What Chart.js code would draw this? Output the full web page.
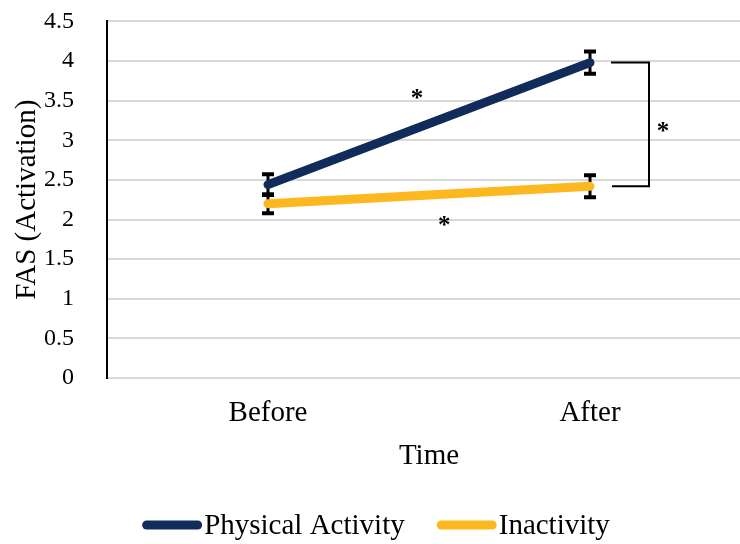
<!DOCTYPE html>
<html>
<head>
<meta charset="utf-8">
<script src="https://cdn.jsdelivr.net/npm/chart.js@4"></script>
<style>
  html, body { margin: 0; padding: 0; background: #fff; overflow: hidden; }
  #frame { width: 740px; height: 544px; position: relative; overflow: hidden; }
  #wrap { width: 752px; height: 570px; position: absolute; left: 0; top: -26px; }
</style>
</head>
<body>
<div id="frame"><div id="wrap"><canvas id="c"></canvas></div></div>
<script>
// Mean FAS (Activation) scores with standard errors
const categories = ['Before', 'After'];
const physicalActivity = [2.44, 3.98];
const physicalActivityError = [0.13, 0.14];
const inactivity = [2.20, 2.42];
const inactivityError = [0.12, 0.14];
const yTickValues = [0, 0.5, 1, 1.5, 2, 2.5, 3, 3.5, 4, 4.5];

// Significance stars: position in (category index, value) units
const starX = [0.463, 0.547];
const starY = [3.56, 1.96];

const SERIF = "'Times New Roman', 'Liberation Serif', serif";
const NAVY = '#112B5A';
const GOLD = '#FDB71F';

const errorBars = {
  id: 'errorBars',
  beforeDatasetsDraw(chart) {
    const { ctx, scales: { x, y } } = chart;
    ctx.save();
    ctx.strokeStyle = '#000';
    chart.data.datasets.forEach(ds => {
      ds.data.forEach((v, j) => {
        const e = ds.errors[j];
        const px = x.getPixelForValue(j);
        const top = y.getPixelForValue(v + e);
        const bot = y.getPixelForValue(v - e);
        ctx.lineWidth = 3;
        ctx.beginPath(); ctx.moveTo(px, top); ctx.lineTo(px, bot); ctx.stroke();
        ctx.lineWidth = 4;
        ctx.beginPath();
        ctx.moveTo(px - 6, top); ctx.lineTo(px + 6, top);
        ctx.moveTo(px - 6, bot); ctx.lineTo(px + 6, bot);
        ctx.stroke();
      });
    });
    ctx.restore();
  }
};

const significance = {
  id: 'significance',
  afterDatasetsDraw(chart) {
    const { ctx, scales: { x, y } } = chart;
    ctx.save();
    ctx.fillStyle = '#000';
    ctx.font = 'bold 25px ' + SERIF;
    ctx.textAlign = 'center';
    ctx.textBaseline = 'middle';
    starX.forEach((sx, i) => {
      ctx.fillText('*', x.getPixelForValue(sx), y.getPixelForValue(starY[i]) + 4);
    });
    // bracket between the two groups at "After"
    const ax = x.getPixelForValue(1);
    const yTop = y.getPixelForValue(physicalActivity[1]);
    const yBot = y.getPixelForValue(inactivity[1]);
    ctx.strokeStyle = '#000';
    ctx.lineWidth = 2;
    ctx.beginPath();
    ctx.moveTo(ax + 21, yTop); ctx.lineTo(ax + 59, yTop);
    ctx.lineTo(ax + 59, yBot); ctx.lineTo(ax + 22, yBot);
    ctx.stroke();
    ctx.fillText('*', ax + 73, (yTop + yBot) / 2 + 8.5);
    ctx.restore();
  }
};

const bottomLegend = {
  id: 'bottomLegend',
  afterDraw(chart) {
    const { ctx } = chart;
    ctx.save();
    ctx.font = '29px ' + SERIF;
    ctx.textBaseline = 'middle';
    ctx.textAlign = 'left';
    const lineW = 60, gap = 2, spacing = 32;
    const items = chart.data.datasets.map(ds => ({ label: ds.label, color: ds.borderColor, w: ctx.measureText(ds.label).width }));
    const total = items.reduce((s, it) => s + lineW + gap + it.w, 0) + spacing * (items.length - 1);
    let cx = chart.width / 2 - total / 2;
    const cy = chart.height - 19;
    items.forEach(it => {
      ctx.strokeStyle = it.color;
      ctx.lineWidth = 9;
      ctx.lineCap = 'round';
      ctx.beginPath(); ctx.moveTo(cx + 4.5, cy); ctx.lineTo(cx + lineW - 4.5, cy); ctx.stroke();
      ctx.fillStyle = '#000';
      ctx.fillText(it.label, cx + lineW + gap, cy + 1);
      cx += lineW + gap + it.w + spacing;
    });
    ctx.restore();
  }
};

new Chart(document.getElementById('c'), {
  type: 'line',
  data: {
    labels: categories,
    datasets: [
      { label: 'Physical Activity', data: physicalActivity, errors: physicalActivityError,
        borderColor: NAVY, backgroundColor: NAVY, borderWidth: 9, borderCapStyle: 'round', pointRadius: 0 },
      { label: 'Inactivity', data: inactivity, errors: inactivityError,
        borderColor: GOLD, backgroundColor: GOLD, borderWidth: 9, borderCapStyle: 'round', pointRadius: 0 }
    ]
  },
  plugins: [errorBars, significance, bottomLegend],
  options: {
    responsive: true,
    maintainAspectRatio: false,
    animation: false,
    layout: { padding: { top: 9, right: 1, bottom: 60, left: 0 } },
    plugins: { legend: { display: false }, tooltip: { enabled: false } },
    scales: {
      x: {
        offset: true,
        grid: { display: false, drawTicks: false },
        border: { color: '#d9d9d9', width: 2 },
        ticks: { color: '#000', font: { family: SERIF, size: 29 }, padding: 18 },
        title: { display: true, text: 'Time', color: '#000', font: { family: SERIF, size: 29 }, padding: { top: 0, bottom: 10 } },
        afterFit(scale) { scale.height = 106; }
      },
      y: {
        min: 0, max: 4.5,
        afterBuildTicks(scale) { scale.ticks = yTickValues.map(v => ({ value: v })); },
        grid: { color: '#d9d9d9', lineWidth: 2, drawTicks: false },
        border: { color: '#000', width: 2 },
        ticks: { color: '#000', font: { family: SERIF, size: 24 }, padding: 33, callback: v => String(v) },
        title: { display: true, text: 'FAS (Activation)', color: '#000', font: { family: SERIF, size: 29 }, padding: { top: 10, bottom: 0 } },
        afterFit(scale) { scale.width = 107; }
      }
    }
  }
});
</script>
</body>
</html>
